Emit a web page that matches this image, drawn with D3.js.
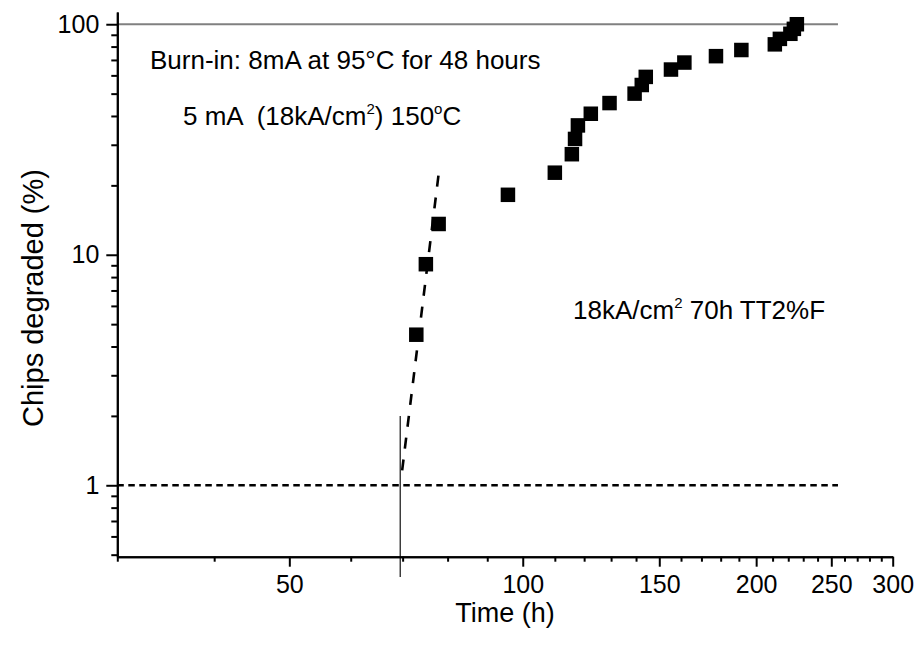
<!DOCTYPE html>
<html lang="en">
<head>
  <meta charset="UTF-8">
  <title>Chips degraded vs time</title>
  <script src="https://d3js.org/d3.v7.min.js"></script>
  <style>
    body { margin: 0; background: #fff; }
    svg { display: block; font-family: "Liberation Sans", Arial, sans-serif; }
    .axis path, .axis line { stroke: #000; stroke-width: 2; }
    .axis text { font-size: 25px; fill: #000; font-family: "Liberation Sans", Arial, sans-serif; }
    .note { font-size: 26px; fill: #000; white-space: pre; }
  </style>
</head>
<body>
<div id="chart"></div>
<script>
  // measured points (time in hours, % chips degraded)
  const timeH = [72.9, 75.0, 77.9, 95.7, 110.0, 115.7, 116.8, 117.8, 122.4, 129.4, 139.4,
                 142.4, 144.1, 155.3, 161.6, 177.5, 191.4, 211.4, 214.6, 221.4, 223.7, 225.7];
  const degradedPct = [4.5, 9.1, 13.6, 18.2, 22.7, 27.3, 31.8, 36.4, 40.9, 45.5, 50.0,
                       54.5, 59.1, 63.6, 68.2, 72.7, 77.3, 81.8, 86.4, 90.9, 95.5, 100.0];

  // dashed fit through the first points
  const fitTime = [69.9, 77.9];
  const fitPct = [1.16, 22.4];

  // reference lines
  const refEndTime = 255;
  const markerTime = 69.5;
  const markerPct = [2, 0.4];

  // ticks
  const xMajorTicks = [50, 100, 150, 200, 250, 300];
  const xMinorTicks = [30, 40, 60, 70, 80, 90, 110, 120, 130, 140, 160, 170, 180, 190,
                       210, 220, 230, 240, 260, 270, 280, 290];
  const yMajorTicks = [1, 10, 100];
  const yMinorTicks = [0.5, 0.6, 0.7, 0.8, 0.9, 2, 3, 4, 5, 6, 7, 8, 9,
                       20, 30, 40, 50, 60, 70, 80, 90];

  const width = 916, height = 649;
  const svg = d3.select("#chart").append("svg")
    .attr("width", width)
    .attr("height", height);

  svg.append("rect").attr("width", width).attr("height", height).attr("fill", "#fff");

  const x = d3.scaleLog().domain([30, 300]).range([117.3, 892.7]);
  const y = d3.scaleLog().domain([0.49, 113]).range([556.7, 12]);
  const x0 = x.range()[0], y0 = y.range()[0];

  // reference lines at 100% and 1%
  svg.append("line")
    .attr("x1", x(30)).attr("x2", x(refEndTime))
    .attr("y1", y(100)).attr("y2", y(100))
    .attr("stroke", "#808080").attr("stroke-width", 2);

  svg.append("line")
    .attr("x1", x(30)).attr("x2", x(refEndTime))
    .attr("y1", y(1)).attr("y2", y(1))
    .attr("stroke", "#000").attr("stroke-width", 2.5)
    .attr("stroke-dasharray", "6.5,4.5");

  // thin vertical marker
  svg.append("line")
    .attr("x1", x(markerTime)).attr("x2", x(markerTime))
    .attr("y1", y(markerPct[0])).attr("y2", y(markerPct[1]))
    .attr("stroke", "#111").attr("stroke-width", 1.2);

  // fit line
  svg.append("line")
    .attr("x1", x(fitTime[0])).attr("y1", y(fitPct[0]))
    .attr("x2", x(fitTime[1])).attr("y2", y(fitPct[1]))
    .attr("stroke", "#000").attr("stroke-width", 2.6)
    .attr("stroke-dasharray", "11,11");

  // axes: minor ticks first, then major with labels
  svg.append("g").attr("class", "axis")
    .attr("transform", `translate(0,${y0})`)
    .call(d3.axisBottom(x).tickValues(xMinorTicks).tickSize(5).tickSizeOuter(0).tickFormat(""));
  svg.append("g").attr("class", "axis")
    .attr("transform", `translate(0,${y0})`)
    .call(d3.axisBottom(x).tickValues(xMajorTicks).tickSize(10).tickSizeOuter(0)
      .tickPadding(9).tickFormat(d3.format("d")));

  svg.append("g").attr("class", "axis")
    .attr("transform", `translate(${x0},0)`)
    .call(d3.axisLeft(y).tickValues(yMinorTicks).tickSize(6).tickSizeOuter(0).tickFormat(""));
  svg.append("g").attr("class", "axis")
    .attr("transform", `translate(${x0},0)`)
    .call(d3.axisLeft(y).tickValues(yMajorTicks).tickSize(11).tickSizeOuter(0)
      .tickPadding(7).tickFormat(d3.format("d")));

  // squares
  const size = 14.5;
  svg.selectAll(".pt")
    .data(timeH.map((t, i) => ({ t, p: degradedPct[i] })))
    .enter().append("rect")
    .attr("class", "pt")
    .attr("x", d => x(d.t) - size / 2)
    .attr("y", d => y(d.p) - size / 2)
    .attr("width", size)
    .attr("height", size)
    .attr("fill", "#000");

  // axis titles
  svg.append("text")
    .attr("x", (x.range()[0] + x.range()[1]) / 2)
    .attr("y", 622)
    .attr("text-anchor", "middle")
    .attr("font-size", 27)
    .text("Time (h)");

  svg.append("text")
    .attr("transform", "translate(43,298) rotate(-90)")
    .attr("text-anchor", "middle")
    .attr("font-size", 29)
    .text("Chips degraded (%)");

  // annotations
  svg.append("text").attr("class", "note")
    .attr("x", 150).attr("y", 69)
    .text("Burn-in: 8mA at 95°C for 48 hours");

  const t2 = svg.append("text").attr("class", "note").attr("x", 183).attr("y", 125);
  t2.append("tspan").text("5 mA  (18kA/cm");
  t2.append("tspan").attr("dy", -11).attr("font-size", 15).text("2");
  t2.append("tspan").attr("dy", 11).text(") 150");
  t2.append("tspan").attr("dy", -11).attr("font-size", 15).text("o");
  t2.append("tspan").attr("dy", 11).text("C");

  const t3 = svg.append("text").attr("class", "note").attr("x", 573).attr("y", 319)
    .attr("font-size", 25);
  t3.append("tspan").text("18kA/cm");
  t3.append("tspan").attr("dy", -11).attr("font-size", 15).text("2");
  t3.append("tspan").attr("dy", 11).text(" 70h TT2%F");
</script>
</body>
</html>
